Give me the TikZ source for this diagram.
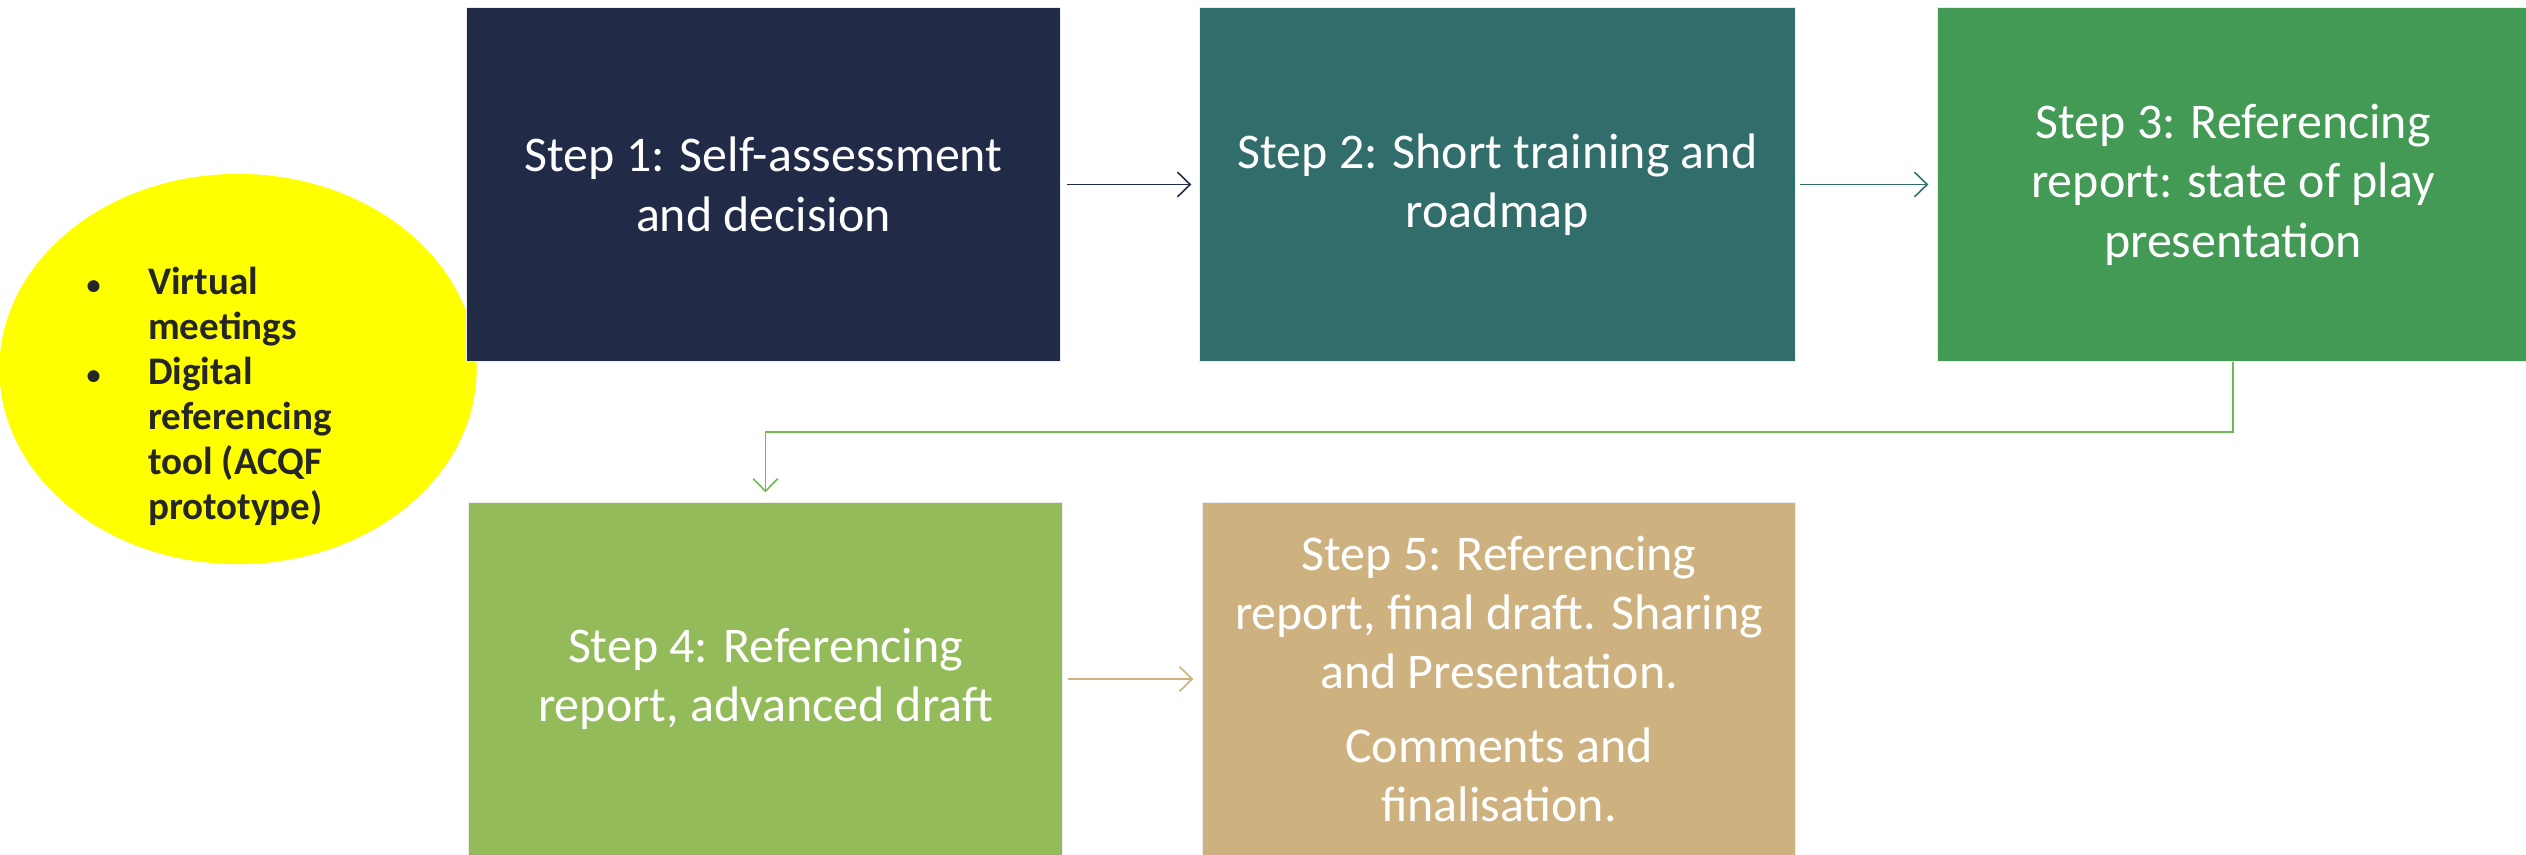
\documentclass[tikz,border=0pt]{standalone}
\usepackage{fontspec}
\setmainfont{Carlito}
\usetikzlibrary{arrows.meta,calc,shapes.geometric}
\definecolor{cOne}{HTML}{212B47}
\definecolor{cTwo}{HTML}{316E6B}
\definecolor{cThree}{HTML}{439A54}
\definecolor{cFour}{HTML}{93BB59}
\definecolor{cFive}{HTML}{CDB27F}
\definecolor{cArrowG}{HTML}{6DBB4F}
\definecolor{cEll}{HTML}{FFFF00}
\definecolor{cEllText}{HTML}{262626}
\tikzset{
  stepbox/.style={rectangle, draw=white!85!gray, line width=0.3pt, inner sep=0pt,
    text=white, align=center, font=\fontsize{14.2}{16.9}\selectfont},
  flow/.style={line width=0.45pt, -{Straight Barb[length=3.6pt,width=7pt]}},
}
\begin{document}
\begin{tikzpicture}[x=0.01cm,y=-0.01cm]
\useasboundingbox (0,0) rectangle (2526,855);
% ellipse (behind boxes)
\node[ellipse, fill=cEll, minimum width=4.77cm, minimum height=3.90cm, inner sep=0pt] (ell) at (238,369) {};
\node[anchor=north west, inner sep=0pt, align=left, text=cEllText,
  font=\fontsize{11.1}{12.8}\selectfont\bfseries] (elltext) at (86,266)
  {\makebox[17.5pt][l]{\footnotesize\textbullet}Virtual\\
   \hspace*{17.5pt}meetings\\
   \makebox[17.5pt][l]{\footnotesize\textbullet}Digital\\
   \hspace*{17.5pt}referencing\\
   \hspace*{17.5pt}tool (ACQF\\
   \hspace*{17.5pt}prototype)};
% boxes
\node[stepbox, fill=cOne, minimum width=5.93cm, minimum height=3.53cm] (s1) at (763.5,184.5)
  {Step 1: Self-assessment\\and decision};
\node[stepbox, fill=cTwo, minimum width=5.95cm, minimum height=3.53cm] (s2) at (1497.5,184.5)
  {Step 2: Short training and\\roadmap};
\node[stepbox, fill=cThree, minimum width=5.90cm, minimum height=3.53cm] (s3) at (2233,184.5)
  {Step 3: Referencing\\report: state of play\\presentation};
\node[stepbox, fill=cFour, minimum width=5.93cm, minimum height=3.52cm] (s4) at (765.5,679)
  {Step 4: Referencing\\report, advanced draft};
\node[stepbox, fill=cFive, minimum width=5.92cm, minimum height=3.52cm] (s5) at (1499,679)
  {Step 5: Referencing\\report, final draft. Sharing\\and Presentation.\\[4pt]Comments and\\finalisation.};
% connectors
\draw[flow, draw=cOne, shorten <=0.06cm, shorten >=0.08cm] (s1.east) -- (s2.west);
\draw[flow, draw=cTwo, shorten <=0.04cm, shorten >=0.09cm] (s2.east) -- (s3.west);
\coordinate (bend) at (2234,432);
\draw[flow, draw=cArrowG, shorten >=0.10cm] (s3.south) |- (bend) -| (s4.north);
\draw[flow, draw=cFive, shorten <=0.05cm, shorten >=0.09cm] (s4.east) -- (s5.west);
\end{tikzpicture}
\end{document}
